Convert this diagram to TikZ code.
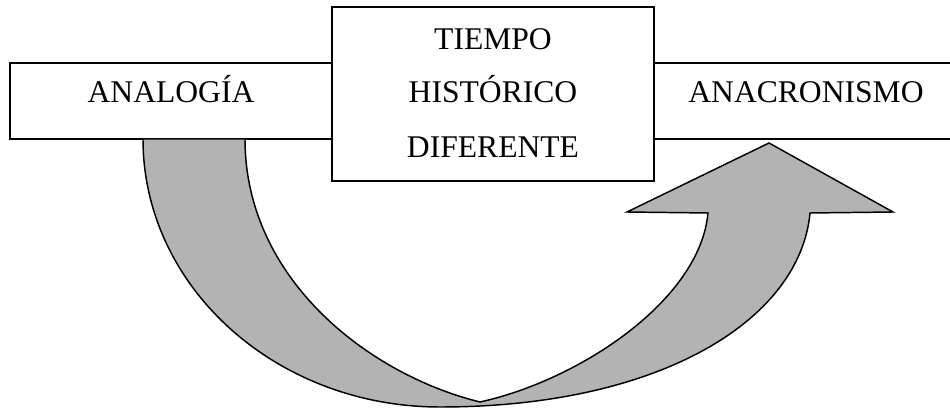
\documentclass[tikz,border=0pt]{standalone}
\usepackage{fontspec}
\setmainfont{Liberation Serif}
\definecolor{arrowgray}{HTML}{B3B3B3}
\tikzset{
  boxframe/.style={draw, line width=1.5pt, fill=white},
  boxtext/.style={font=\fontsize{23.7}{28}\selectfont, anchor=base, inner sep=0pt},
}
\begin{document}
\begin{tikzpicture}[x=0.75pt, y=-0.75pt]
    \useasboundingbox (0,0) rectangle (950,409);

    % Side boxes
    \draw[boxframe] (10,63) rectangle (332,139);
    \draw[boxframe] (654,63) rectangle (958,139);

    % Curved arrow (down from the left box, up to the right box)
    \draw[fill=arrowgray, line width=1.1pt, line join=miter]
      (143,139) .. controls (143,287) and (276,407) .. (440,407)
      .. controls (660,407) and (800,320) .. (810,213)
      -- (893,212) -- (769,143) -- (627,212) -- (708,213)
      .. controls (700,300) and (580,380) .. (480,402)
      .. controls (370,375) and (245,280) .. (245,139) -- cycle;

    % Middle box
    \draw[boxframe] (332,7) rectangle (654,181);

    % Labels
    \node[boxtext] (analogia) at (171,103) {ANALOGÍA};
    \node[boxtext] (tiempo) at (493,50) {TIEMPO};
    \node[boxtext] (historico) at (493,103) {HISTÓRICO};
    \node[boxtext] (diferente) at (493,158) {DIFERENTE};
    \node[boxtext] (anacronismo) at (806,103) {ANACRONISMO};
\end{tikzpicture}
\end{document}
